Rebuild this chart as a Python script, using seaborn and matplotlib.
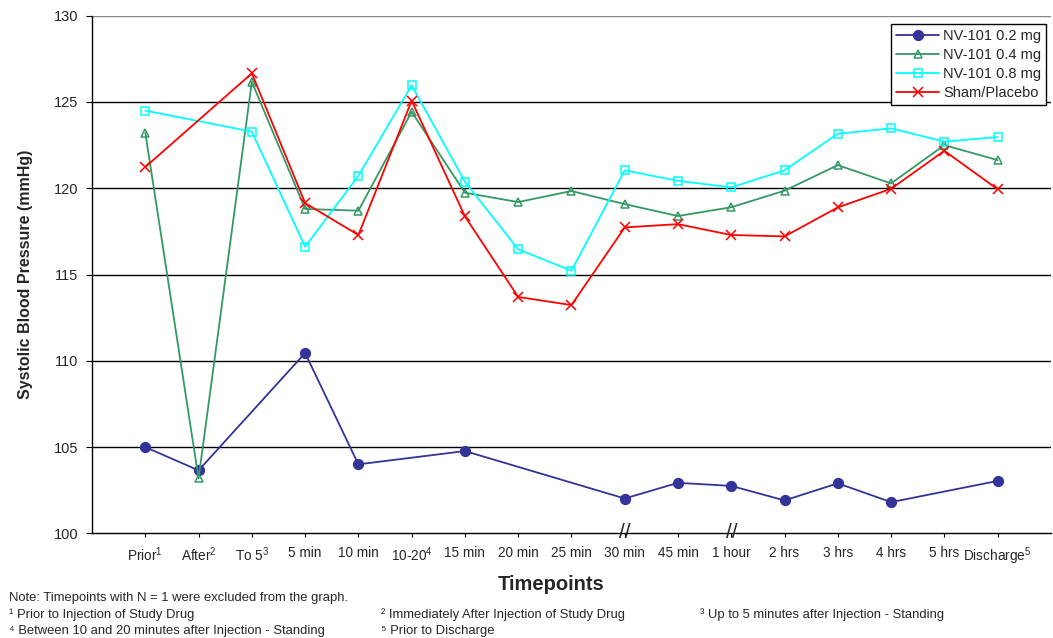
import matplotlib

matplotlib.use("Agg")

import matplotlib.pyplot as plt
import numpy as np
import pandas as pd
import seaborn as sns

# 측정 시점
timepoints = [
    "Prior$^1$", "After$^2$", "To 5$^3$", "5 min", "10 min", "10-20$^4$",
    "15 min", "20 min", "25 min", "30 min", "45 min", "1 hour", "2 hrs",
    "3 hrs", "4 hrs", "5 hrs", "Discharge$^5$",
]

# 수축기 혈압 (mmHg), NaN = 표시 안 함
nv_02 = [105.0, 103.65, np.nan, 110.45, 104.0, np.nan, 104.77, np.nan, np.nan,
         102.02, 102.93, 102.75, 101.91, 102.9, 101.81, np.nan, 103.04]
nv_04 = [123.22, 103.18, 126.17, 118.8, 118.7, 124.43, 119.74, 119.2, 119.84,
         119.08, 118.39, 118.9, 119.86, 121.34, 120.28, 122.5, 121.63]
nv_08 = [124.5, np.nan, 123.28, 116.61, 120.72, 125.97, 120.38, 116.46, 115.22,
         121.04, 120.43, 120.05, 121.04, 123.16, 123.47, 122.7, 122.97]
placebo = [121.23, np.nan, 126.66, 119.14, 117.29, 125.07, 118.37, 113.7, 113.23,
           117.73, 117.92, 117.29, 117.21, 118.89, 119.97, 122.17, 119.94]

series_names = ["NV-101 0.2 mg", "NV-101 0.4 mg", "NV-101 0.8 mg", "Sham/Placebo"]
series_values = [nv_02, nv_04, nv_08, placebo]
break_points = ["30 min", "1 hour"]

footnote_lines = [
    (0.009, 0.058, "Note: Timepoints with N = 1 were excluded from the graph."),
    (0.009, 0.032, "\u00b9 Prior to Injection of Study Drug"),
    (0.362, 0.032, "\u00b2 Immediately After Injection of Study Drug"),
    (0.665, 0.032, "\u00b3 Up to 5 minutes after Injection - Standing"),
    (0.009, 0.007, "\u2074 Between 10 and 20 minutes after Injection - Standing"),
    (0.362, 0.007, "\u2075 Prior to Discharge"),
]

styles = {
    "NV-101 0.2 mg": dict(color="#333399", marker="o", mfc="#333399", ms=7),
    "NV-101 0.4 mg": dict(color="#339966", marker="^", mfc="none", ms=6),
    "NV-101 0.8 mg": dict(color="#00FFFF", marker="s", mfc="none", ms=5.5),
    "Sham/Placebo": dict(color="#FF0000", marker="x", mfc="none", ms=6.5),
}

sns.set_style("white")
plt.rcParams["font.family"] = ["Liberation Sans", "DejaVu Sans"]
plt.rcParams["mathtext.default"] = "regular"

fig = plt.figure(figsize=(10.53, 6.38), dpi=100)
ax = fig.add_axes([0.0874, 0.164, 0.9106, 0.8114])

positions = np.arange(len(timepoints))
for name, values in zip(series_names, series_values):
    df = pd.DataFrame({"pos": positions, "bp": values}).dropna()
    st = styles[name]
    sns.lineplot(
        data=df, x="pos", y="bp", ax=ax, label=name,
        color=st["color"], marker=st["marker"], mfc=st["mfc"],
        mec=st["color"], mew=1.1, ms=st["ms"], lw=1.3,
        estimator=None, sort=False,
    )

ax.set_xlim(-1, len(timepoints))
ax.set_ylim(100, 130)
ax.set_yticks(np.arange(100, 131, 5))
ax.set_xticks(positions)
ax.set_xticklabels(timepoints, fontsize=9.8)
ax.tick_params(axis="y", labelsize=10.5, length=4, width=0.8, direction="out",
               left=True, color="black", pad=6)
ax.tick_params(axis="x", length=3, width=0.8, direction="out", bottom=True,
               color="black", pad=6)

# 가로 격자선
for v in np.arange(105, 130, 5):
    ax.axhline(v, color="black", lw=1.0, zorder=0)
ax.axhline(130, color="#888888", lw=1.0, zorder=0)

for side in ["top", "right"]:
    ax.spines[side].set_visible(False)
for side in ["left", "bottom"]:
    ax.spines[side].set_color("black")
    ax.spines[side].set_linewidth(1.0)

# 축 끊김 표시
for bp in break_points:
    ax.text(timepoints.index(bp), 100.05, "//", ha="center", va="center",
            fontsize=15, clip_on=False)

ax.set_xlabel("Timepoints", fontsize=14.5, fontweight="bold")
ax.xaxis.set_label_coords(0.479, -0.080)
ax.set_ylabel("Systolic Blood Pressure (mmHg)", fontsize=11.5,
              fontweight="bold", labelpad=15)

leg = ax.legend(loc="upper right", bbox_to_anchor=(0.9945, 0.983),
                fontsize=10.5, frameon=True, fancybox=False, edgecolor="black",
                framealpha=1, borderpad=0.3, labelspacing=0.35,
                handlelength=3.0, handletextpad=0.25, borderaxespad=0)
leg.get_frame().set_linewidth(1.0)

for x, y, txt in footnote_lines:
    fig.text(x, y, txt, fontsize=9.4)

fig.savefig("out.png", dpi=100)
